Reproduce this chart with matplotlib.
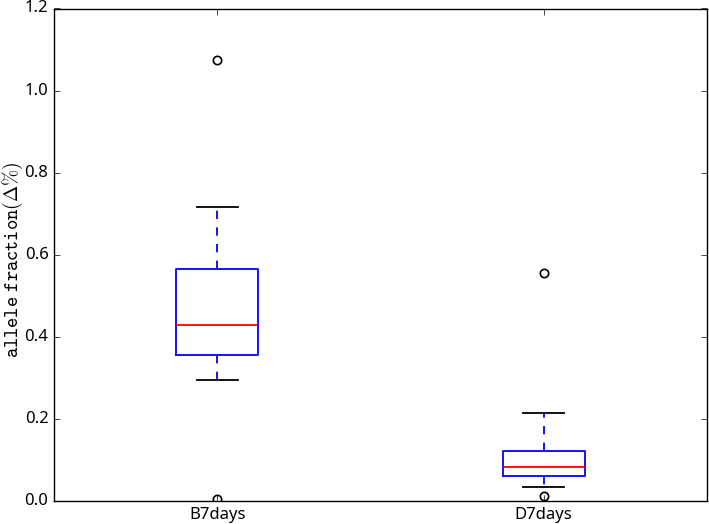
import matplotlib
matplotlib.use('Agg')
import matplotlib.pyplot as plt

labels = ['B7days', 'D7days']
q1 = [0.356, 0.061]
medians = [0.429, 0.084]
q3 = [0.565, 0.122]
whisker_lo = [0.295, 0.033]
whisker_hi = [0.716, 0.214]
fliers = [[1.075, 0.006], [0.556, 0.012]]

plt.style.use('classic')
plt.rcParams['font.family'] = ['Noto Sans', 'DejaVu Sans']
plt.rcParams['mathtext.fontset'] = 'cm'

stats = []
for i, lab in enumerate(labels):
    stats.append({'label': lab, 'q1': q1[i], 'med': medians[i], 'q3': q3[i],
                  'whislo': whisker_lo[i], 'whishi': whisker_hi[i],
                  'fliers': fliers[i]})

fig = plt.figure(figsize=(7.09, 5.24), dpi=100, facecolor='white')
ax = fig.add_axes((54 / 709, 1 - 501 / 524, 653 / 709, 492.5 / 524))
ax.bxp(stats, widths=0.25,
       boxprops=dict(color='blue', linewidth=1.3),
       medianprops=dict(color='red', linewidth=1.3),
       whiskerprops=dict(color='blue', linestyle='--', linewidth=1.3),
       capprops=dict(color='black', linewidth=1.3),
       flierprops=dict(marker='o', markerfacecolor='none', markeredgecolor='black',
                       markersize=6, markeredgewidth=1.2))
ax.set_xlim(0.5, 2.5)
ax.set_ylim(0, 1.2)
ax.set_ylabel(r'$\mathtt{allele\ fraction(\Delta\%)}$', fontsize=14)
ax.yaxis.set_label_coords(-0.045, 0.49)
ax.tick_params(labelsize=12)

fig.savefig('out.png', dpi=100, facecolor='white')
